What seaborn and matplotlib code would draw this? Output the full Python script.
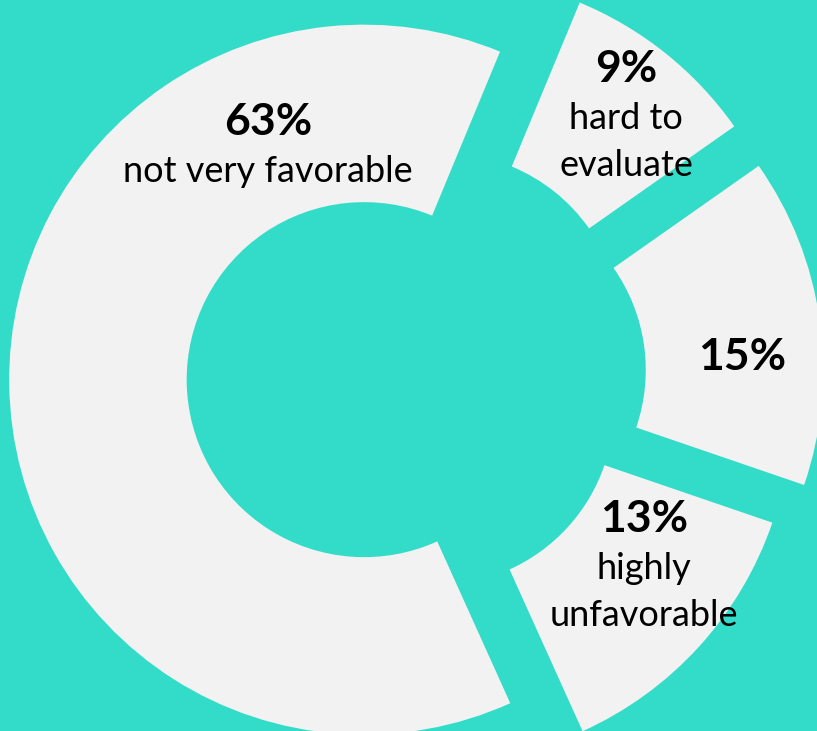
import matplotlib
matplotlib.use("Agg")
import matplotlib.pyplot as plt
import seaborn as sns

# Survey shares, counter-clockwise from the top edge of the largest slice
shares = [63, 13, 15, 9]
descriptions = ["not very favorable", "highly\nunfavorable", "", "hard to\nevaluate"]

# Styling
BG = "#32DCC8"
SLICE = "#F2F2F2"
explode = [0.115, 0.12, 0.18, 0.175]

sns.set_theme(style="white", rc={"figure.facecolor": BG, "axes.facecolor": BG})
plt.rcParams["font.family"] = ["Lato", "DejaVu Sans"]

W, H = 817, 731
fig = plt.figure(figsize=(W / 100, H / 100), dpi=100)
ax = fig.add_axes([0, 0, 1, 1])
ax.set_facecolor(BG)

ax.pie(shares, explode=explode, startangle=67.5, counterclock=True,
       colors=[SLICE] * len(shares), radius=1.0,
       wedgeprops=dict(width=0.5, linewidth=0))

# Pixel layout: pie centre and scale (pixels per unit radius)
CX, CY, S = 405, 379, 355
ax.set_xlim(-CX / S, (W - CX) / S)
ax.set_ylim(-(H - CY) / S, CY / S)
ax.set_aspect("auto")
ax.axis("off")


def to_data(px, py):
    return (px - CX) / S, (CY - py) / S


# Label anchors: centre x and baseline y of the percentage line (pixels)
anchors = [(268, 135), (644, 532), (742, 370), (626, 82)]
LINE = 47

for value, desc, (px, py) in zip(shares, descriptions, anchors):
    x, y = to_data(px, py)
    ax.text(x, y, f"{value}%", ha="center", va="baseline",
            fontsize=32, fontweight="bold", color="black")
    for i, line in enumerate(desc.split("\n") if desc else []):
        lx, ly = to_data(px, py + LINE * (i + 1))
        ax.text(lx, ly, line, ha="center", va="baseline",
                fontsize=26, color="black")

fig.savefig("out.png", dpi=100, facecolor=BG)
